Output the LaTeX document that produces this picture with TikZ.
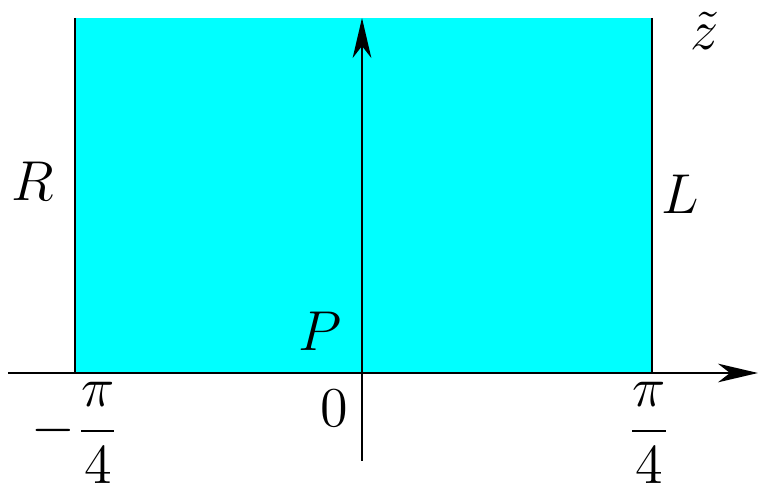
\documentclass[tikz,border=0pt]{standalone}
\usepackage{amsmath,amssymb}
\usetikzlibrary{arrows.meta, positioning}
\definecolor{Strip}{HTML}{00FFFF}

\begin{document}
\begin{tikzpicture}[
  x=0.075mm, y=-0.075mm,
  every node/.style={font=\large, inner sep=0pt},
  edge/.style={line width=0.45pt},
  arr/.style={edge, -{Stealth[length=3mm, width=1.4mm, inset=0.9mm]}},
]
  \useasboundingbox (0,0) rectangle (758,488);
  % strip
  \fill[Strip] (75,18) rectangle (652,373);
  \draw[edge] (75,18) -- (75,373);
  \draw[edge] (652,18) -- (652,373);
  % axes
  \coordinate (xl) at (8,373);
  \coordinate (xr) at (758,373);
  \coordinate (yb) at (362,461);
  \coordinate (yt) at (362,18);
  \draw[arr] (xl) -- (xr);
  \draw[arr] (yb) -- (yt);
  % labels
  \node (rr) at (33,181) {$R$};
  \node (ll) at (680,194) {$L$};
  \node (pp) at (320,331) {$P$};
  \node (zero) at (334,408) {$0$};
  \node (mq) at (76,433) {$-\dfrac{\pi}{4}$};
  \node (pq) at (649,433) {$\dfrac{\pi}{4}$};
  \node (zt) at (705,31) {$\tilde z$};
\end{tikzpicture}
\end{document}
